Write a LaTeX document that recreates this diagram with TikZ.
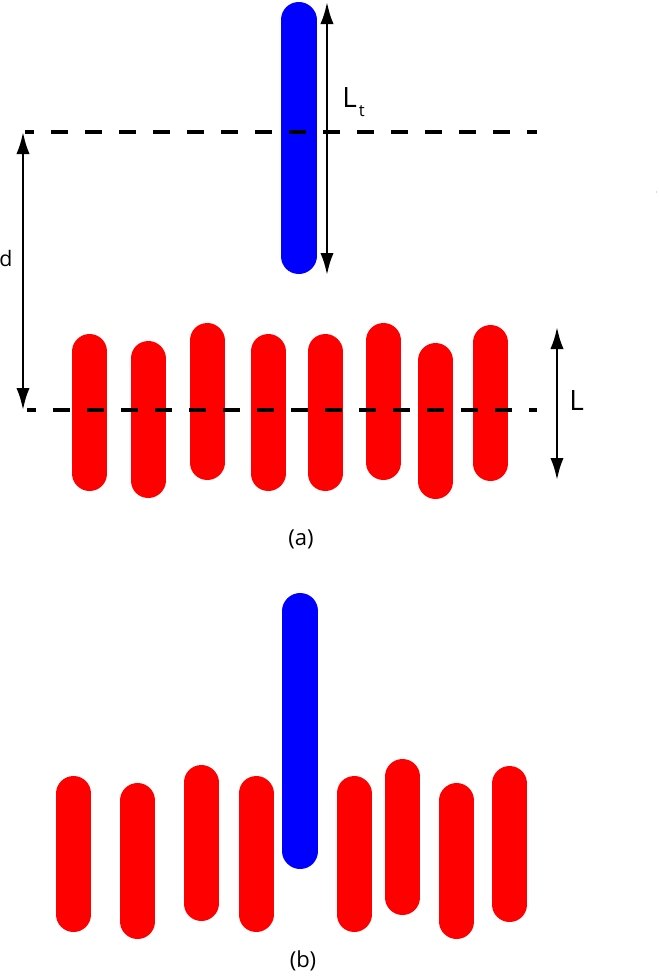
\documentclass[tikz,border=0pt]{standalone}
\usepackage{fontspec}
\setmainfont{Open Sans}
\usetikzlibrary{arrows.meta}
\begin{document}
\begin{tikzpicture}[x=0.75pt,y=-0.75pt,
  redrod/.style={draw=red,line width=26.25pt,line cap=round},
  bluerod/.style={draw=blue,line width=27pt,line cap=round},
  dimarrow/.style={draw=black,line width=2pt,{Latex[length=16.5pt,width=10pt]}-{Latex[length=16.5pt,width=10pt]}},
  refline/.style={draw=black,line width=2.3pt,dash pattern=on 12.75pt off 12.75pt,dash phase=6pt},
  lbl/.style={inner sep=0pt,anchor=base west}]
\useasboundingbox (0,0) rectangle (658,976);
% ---------- (a) ----------
\draw[bluerod] (298.5,20) -- (298.5,256);
\foreach \x/\t/\b in {89.8/334/491, 148/341/498, 207/323/480, 268/334/491, 325/334/491, 383.5/323/480, 435.6/343/499, 490.6/325/481}
  \draw[redrod] (\x,\t+17.5) -- (\x,\b-17.5);
\coordinate (ta) at (25,132);
\coordinate (tb) at (537,132);
\coordinate (ba) at (27,410);
\coordinate (bb) at (537,410);
\draw[refline] (ta) -- (tb);
\draw[refline] (ba) -- (bb);
\coordinate (lt1) at (327,2);
\coordinate (lt2) at (327,275);
\draw[dimarrow] (lt1) -- (lt2);
\coordinate (d1) at (23,132);
\coordinate (d2) at (23,410);
\draw[dimarrow] (d1) -- (d2);
\coordinate (l1) at (557,327);
\coordinate (l2) at (557,480);
\draw[dimarrow] (l1) -- (l2);
\node[lbl] (lLt) at (342,107) {\fontsize{21}{25}\selectfont L\kern1.5pt\raisebox{-7pt}{\fontsize{12.5}{15}\selectfont t}};
\node[lbl] (ld) at (-1,266) {\fontsize{16}{19}\selectfont d};
\node[lbl] (lL) at (569,410) {\fontsize{21}{25}\selectfont L};
\node[inner sep=0pt] (capa) at (301,539) {\fontsize{16.5}{20}\selectfont (a)};
\fill[gray!60] (656.5,192) circle (0.7);
% ---------- (b) ----------
\draw[bluerod] (300.4,611) -- (300.4,851);
\foreach \x/\t/\b in {73.7/776/932, 137.7/783/939, 201.2/765/921, 256/776/932, 354/776/932, 402.6/759/915, 456.8/783/939, 509.7/766/922}
  \draw[redrod] (\x,\t+17.5) -- (\x,\b-17.5);
\node[inner sep=0pt] (capb) at (303,961) {\fontsize{16.5}{20}\selectfont (b)};
\end{tikzpicture}
\end{document}
